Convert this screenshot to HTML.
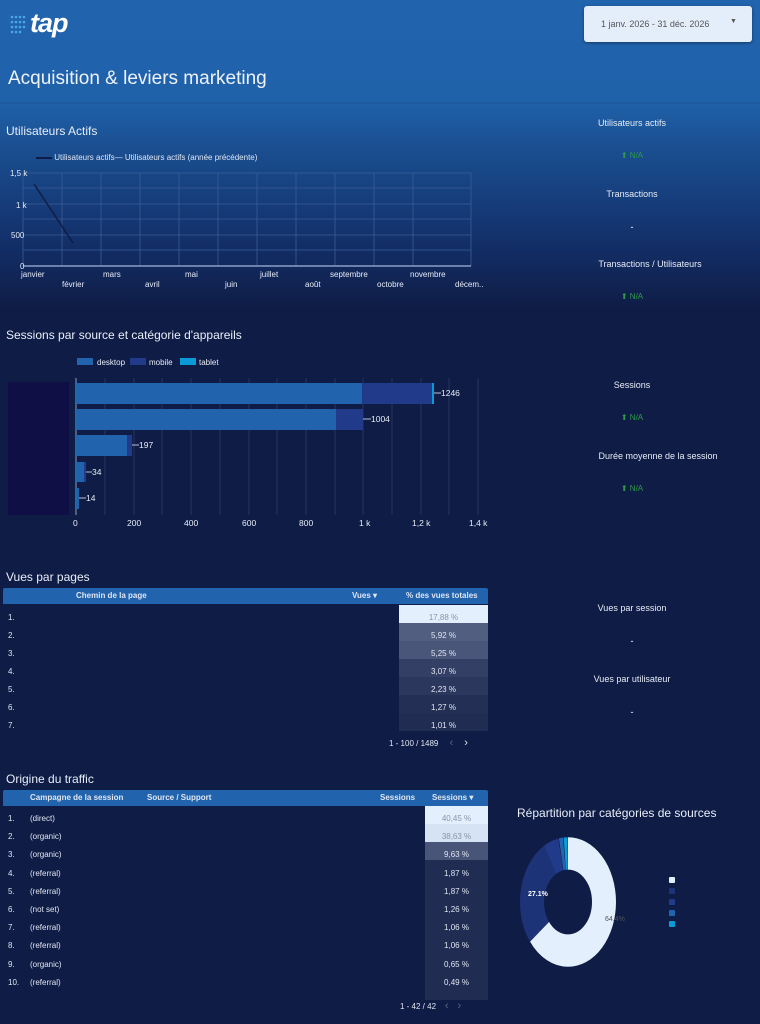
<!DOCTYPE html>
<html><head><meta charset="utf-8"><style>
body{margin:0;width:760px;height:1024px;overflow:hidden;font-family:"Liberation Sans",sans-serif;color:#fff;
background:linear-gradient(to bottom,#2163ad 0px,#2062aa 100px,#1a4e90 150px,#13306a 240px,#0f1c45 310px,#0f1c45 1024px);position:relative}
.a{position:absolute;white-space:nowrap}
.t{font-size:12px;color:#e8eefa}
.s{font-size:8px;color:#e0e6f2}
.k{font-size:9px;color:#e6ecf6;text-align:center;width:160px}
.g{font-size:8px;color:#2f9a4a;text-align:center;width:160px}
</style></head><body>
<div class="a" style="left:0;top:102px;width:760px;height:2px;background:#1e5aa0"></div>
<svg class="a" style="left:9px;top:14px" width="24" height="22"><g fill="#4aa8e8">
<circle cx="3" cy="3" r="1.3"/><circle cx="7" cy="3" r="1.3"/><circle cx="11" cy="3" r="1.3"/><circle cx="15" cy="3" r="1.3"/>
<circle cx="3" cy="8" r="1.3"/><circle cx="7" cy="8" r="1.3"/><circle cx="11" cy="8" r="1.3"/><circle cx="15" cy="8" r="1.3"/>
<circle cx="3" cy="13" r="1.3"/><circle cx="7" cy="13" r="1.3"/><circle cx="11" cy="13" r="1.3"/><circle cx="15" cy="13" r="1.3"/>
<circle cx="3" cy="18" r="1.3"/><circle cx="7" cy="18" r="1.3"/><circle cx="11" cy="18" r="1.3"/></g></svg>
<div class="a" style="left:30px;top:8px;font-size:27px;font-style:italic;font-weight:bold;color:#fff;letter-spacing:-1px">tap</div>
<div class="a" style="left:584px;top:6px;width:168px;height:36px;background:#e4eefb;border-radius:3px;box-shadow:0 1px 3px rgba(0,0,0,.4)"></div>
<div class="a" style="left:601px;top:19px;font-size:9px;color:#555">1 janv. 2026 - 31 déc. 2026</div>
<div class="a" style="left:730px;top:18px;font-size:7px;color:#555">▼</div>
<div class="a" style="left:8px;top:68px;font-size:19px;color:#eef3fb">Acquisition &amp; leviers marketing</div>

<div class="a t" style="left:6px;top:124px">Utilisateurs Actifs</div>
<div class="a s" style="left:36px;top:153px"><span style="display:inline-block;width:16px;height:2px;background:#0f1c45;vertical-align:middle"></span> Utilisateurs actifs— Utilisateurs actifs (année précédente)</div>
<svg class="a" style="left:0;top:165px" width="500" height="130">
<g stroke="#3a5c95" stroke-width="0.8">
<line x1="23" y1="8" x2="471" y2="8"/><line x1="23" y1="23" x2="471" y2="23"/><line x1="23" y1="39" x2="471" y2="39"/><line x1="23" y1="54" x2="471" y2="54"/><line x1="23" y1="70" x2="471" y2="70"/><line x1="23" y1="85" x2="471" y2="85"/>
<line x1="23" y1="8" x2="23" y2="101"/><line x1="62" y1="8" x2="62" y2="101"/><line x1="101" y1="8" x2="101" y2="101"/><line x1="140" y1="8" x2="140" y2="101"/><line x1="179" y1="8" x2="179" y2="101"/><line x1="218" y1="8" x2="218" y2="101"/><line x1="257" y1="8" x2="257" y2="101"/><line x1="296" y1="8" x2="296" y2="101"/><line x1="335" y1="8" x2="335" y2="101"/><line x1="374" y1="8" x2="374" y2="101"/><line x1="413" y1="8" x2="413" y2="101"/><line x1="471" y1="8" x2="471" y2="101"/>
</g>
<line x1="23" y1="101" x2="471" y2="101" stroke="#8aa0c8" stroke-width="1.5"/>
<line x1="34" y1="19" x2="73" y2="78" stroke="#0f1c45" stroke-width="1.5"/>
<g font-size="8" fill="#e6ecf6" font-family="Liberation Sans">
<text x="10" y="11">1,5 k</text><text x="16" y="43">1 k</text><text x="11" y="73">500</text><text x="20" y="104">0</text>
<text x="21" y="112">janvier</text><text x="103" y="112">mars</text><text x="185" y="112">mai</text><text x="260" y="112">juillet</text><text x="330" y="112">septembre</text><text x="410" y="112">novembre</text>
<text x="62" y="122">février</text><text x="145" y="122">avril</text><text x="225" y="122">juin</text><text x="305" y="122">août</text><text x="377" y="122">octobre</text><text x="455" y="122">décem..</text>
</g></svg>

<div class="a k" style="left:552px;top:118px">Utilisateurs actifs</div>
<div class="a g" style="left:552px;top:151px">⬆ N/A</div>
<div class="a k" style="left:552px;top:189px">Transactions</div>
<div class="a k" style="left:552px;top:222px;color:#fff">-</div>
<div class="a k" style="left:570px;top:259px">Transactions / Utilisateurs</div>
<div class="a g" style="left:552px;top:292px">⬆ N/A</div>
<div class="a k" style="left:552px;top:380px">Sessions</div>
<div class="a g" style="left:552px;top:413px">⬆ N/A</div>
<div class="a k" style="left:578px;top:451px">Durée moyenne de la session</div>
<div class="a g" style="left:552px;top:484px">⬆ N/A</div>

<div class="a t" style="left:6px;top:328px">Sessions par source et catégorie d'appareils</div>
<svg class="a" style="left:0;top:350px" width="500" height="185">
<g font-size="8" fill="#e6ecf6" font-family="Liberation Sans">
<rect x="77" y="8" width="16" height="7" fill="#2163ad"/><text x="97" y="15">desktop</text>
<rect x="130" y="8" width="16" height="7" fill="#213a8a"/><text x="149" y="15">mobile</text>
<rect x="180" y="8" width="16" height="7" fill="#0a9ad8"/><text x="199" y="15">tablet</text>
</g>
<rect x="8" y="32" width="61" height="133" fill="#100f45"/>
<g stroke="#2a3a68" stroke-width="0.8">
<line x1="105" y1="28" x2="105" y2="165"/><line x1="134" y1="28" x2="134" y2="165"/><line x1="162" y1="28" x2="162" y2="165"/><line x1="191" y1="28" x2="191" y2="165"/><line x1="220" y1="28" x2="220" y2="165"/><line x1="249" y1="28" x2="249" y2="165"/><line x1="277" y1="28" x2="277" y2="165"/><line x1="306" y1="28" x2="306" y2="165"/><line x1="335" y1="28" x2="335" y2="165"/><line x1="363" y1="28" x2="363" y2="165"/><line x1="392" y1="28" x2="392" y2="165"/><line x1="421" y1="28" x2="421" y2="165"/><line x1="449" y1="28" x2="449" y2="165"/><line x1="478" y1="28" x2="478" y2="165"/>
</g>
<line x1="76" y1="28" x2="76" y2="165" stroke="#8aa0c8"/>
<rect x="76" y="33" width="286" height="21" fill="#2163ad"/><rect x="362" y="33" width="71" height="21" fill="#213a8a"/><rect x="432" y="33" width="2" height="21" fill="#0a9ad8"/>
<rect x="76" y="59" width="260" height="21" fill="#2163ad"/><rect x="336" y="59" width="27" height="21" fill="#213a8a"/>
<rect x="76" y="85" width="51" height="21" fill="#2163ad"/><rect x="127" y="85" width="5" height="21" fill="#213a8a"/>
<rect x="76" y="112" width="8" height="20" fill="#2163ad"/><rect x="84" y="112" width="2" height="20" fill="#213a8a"/>
<rect x="76" y="138" width="3" height="21" fill="#2163ad"/>
<g stroke="#e6ecf6" stroke-width="0.8"><line x1="434" y1="43" x2="441" y2="43"/><line x1="363" y1="69" x2="371" y2="69"/><line x1="132" y1="95" x2="139" y2="95"/><line x1="86" y1="122" x2="92" y2="122"/><line x1="79" y1="148" x2="86" y2="148"/></g>
<g font-size="8.5" fill="#e6ecf6" font-family="Liberation Sans">
<text x="441" y="46">1246</text><text x="371" y="72">1004</text><text x="139" y="98">197</text><text x="92" y="125">34</text><text x="86" y="151">14</text>
<text x="73" y="176">0</text><text x="127" y="176">200</text><text x="184" y="176">400</text><text x="242" y="176">600</text><text x="299" y="176">800</text><text x="359" y="176">1 k</text><text x="412" y="176">1,2 k</text><text x="469" y="176">1,4 k</text>
</g></svg>

<div class="a t" style="left:6px;top:570px">Vues par pages</div>
<div class="a" style="left:3px;top:588px;width:485px;height:16px;background:#2163ad;border-radius:2px 2px 0 0"></div>
<div class="a s" style="left:76px;top:591px;font-weight:bold">Chemin de la page</div>
<div class="a s" style="left:352px;top:591px;font-weight:bold">Vues ▾</div>
<div class="a s" style="left:406px;top:591px;font-weight:bold">% des vues totales</div>
<div class="a" style="left:399px;top:605px;width:89px;height:18px;background:#e3effc"></div>
<div class="a" style="left:399px;top:623px;width:89px;height:18px;background:#525e80"></div>
<div class="a" style="left:399px;top:641px;width:89px;height:18px;background:#4a5679"></div>
<div class="a" style="left:399px;top:659px;width:89px;height:18px;background:#343f65"></div>
<div class="a" style="left:399px;top:677px;width:89px;height:18px;background:#2c375d"></div>
<div class="a" style="left:399px;top:695px;width:89px;height:18px;background:#242f56"></div>
<div class="a" style="left:399px;top:713px;width:89px;height:18px;background:#212c53"></div>
<div class="a s" style="left:8px;top:609px;line-height:18px">1.<br>2.<br>3.<br>4.<br>5.<br>6.<br>7.</div>
<div class="a s" style="left:399px;top:609px;width:89px;text-align:center;line-height:18px"><span style="color:#8a93a8">17,88 %</span><br>5,92 %<br>5,25 %<br>3,07 %<br>2,23 %<br>1,27 %<br>1,01 %</div>
<div class="a s" style="left:389px;top:737px">1 - 100 / 1489 &nbsp;&nbsp;&nbsp; <span style="color:#5a6890;font-size:11px">‹</span> &nbsp;&nbsp;&nbsp; <span style="font-size:11px">›</span></div>
<div class="a k" style="left:552px;top:603px">Vues par session</div>
<div class="a k" style="left:552px;top:636px;color:#fff">-</div>
<div class="a k" style="left:552px;top:674px">Vues par utilisateur</div>
<div class="a k" style="left:552px;top:707px;color:#fff">-</div>

<div class="a t" style="left:6px;top:772px">Origine du traffic</div>
<div class="a" style="left:3px;top:790px;width:485px;height:16px;background:#2163ad;border-radius:2px 2px 0 0"></div>
<div class="a s" style="left:30px;top:793px;font-weight:bold">Campagne de la session</div>
<div class="a s" style="left:147px;top:793px;font-weight:bold">Source / Support</div>
<div class="a s" style="left:380px;top:793px;font-weight:bold">Sessions</div>
<div class="a s" style="left:432px;top:793px;font-weight:bold">Sessions ▾</div>
<div class="a" style="left:425px;top:806px;width:63px;height:18px;background:#e3effc"></div>
<div class="a" style="left:425px;top:824px;width:63px;height:18px;background:#d6e3f4"></div>
<div class="a" style="left:425px;top:842px;width:63px;height:18px;background:#485478"></div>
<div class="a" style="left:425px;top:860px;width:63px;height:140px;background:#212c52"></div>
<div class="a s" style="left:8px;top:810px;line-height:18.2px">1.<br>2.<br>3.<br>4.<br>5.<br>6.<br>7.<br>8.<br>9.<br>10.</div>
<div class="a s" style="left:30px;top:810px;line-height:18.2px">(direct)<br>(organic)<br>(organic)<br>(referral)<br>(referral)<br>(not set)<br>(referral)<br>(referral)<br>(organic)<br>(referral)</div>
<div class="a s" style="left:425px;top:810px;width:63px;text-align:center;line-height:18.2px"><span style="color:#8a93a8">40,45 %</span><br><span style="color:#8a93a8">38,63 %</span><br>9,63 %<br>1,87 %<br>1,87 %<br>1,26 %<br>1,06 %<br>1,06 %<br>0,65 %<br>0,49 %</div>
<div class="a s" style="left:400px;top:1000px">1 - 42 / 42 &nbsp;&nbsp; <span style="color:#5a6890;font-size:11px">‹</span> &nbsp;&nbsp; <span style="color:#5a6890;font-size:11px">›</span></div>

<div class="a" style="left:517px;top:806px;font-size:12px;color:#e8eefa">Répartition par catégories de sources</div>
<svg class="a" style="left:500px;top:830px" width="260" height="150">
<g transform="translate(68,72) scale(1,1.35)">
<circle r="36" fill="none" stroke="#e3effc" stroke-width="24" stroke-dasharray="145.7 226.2" transform="rotate(-90)"/>
<circle r="36" fill="none" stroke="#1c3378" stroke-width="24" stroke-dasharray="0 145.7 61.3 226.2" transform="rotate(-90)"/>
<circle r="36" fill="none" stroke="#213a8a" stroke-width="24" stroke-dasharray="0 207 11.5 226.2" transform="rotate(-90)"/>
<circle r="36" fill="none" stroke="#2266b0" stroke-width="24" stroke-dasharray="0 219 3 226.2" transform="rotate(-90)"/>
<circle r="36" fill="none" stroke="#0a9ad8" stroke-width="24" stroke-dasharray="0 222.5 3 226.2" transform="rotate(-90)"/>
</g>
<text x="28" y="66" font-size="7" fill="#fff" font-weight="bold" font-family="Liberation Sans">27.1%</text>
<text x="105" y="91" font-size="7" fill="#555" font-family="Liberation Sans">64.4%</text>
<rect x="169" y="47" width="6" height="6" rx="1" fill="#e3effc"/>
<rect x="169" y="58" width="6" height="6" rx="1" fill="#1c3378"/>
<rect x="169" y="69" width="6" height="6" rx="1" fill="#213a8a"/>
<rect x="169" y="80" width="6" height="6" rx="1" fill="#2266b0"/>
<rect x="169" y="91" width="6" height="6" rx="1" fill="#0a9ad8"/>
</svg>
</body></html>
